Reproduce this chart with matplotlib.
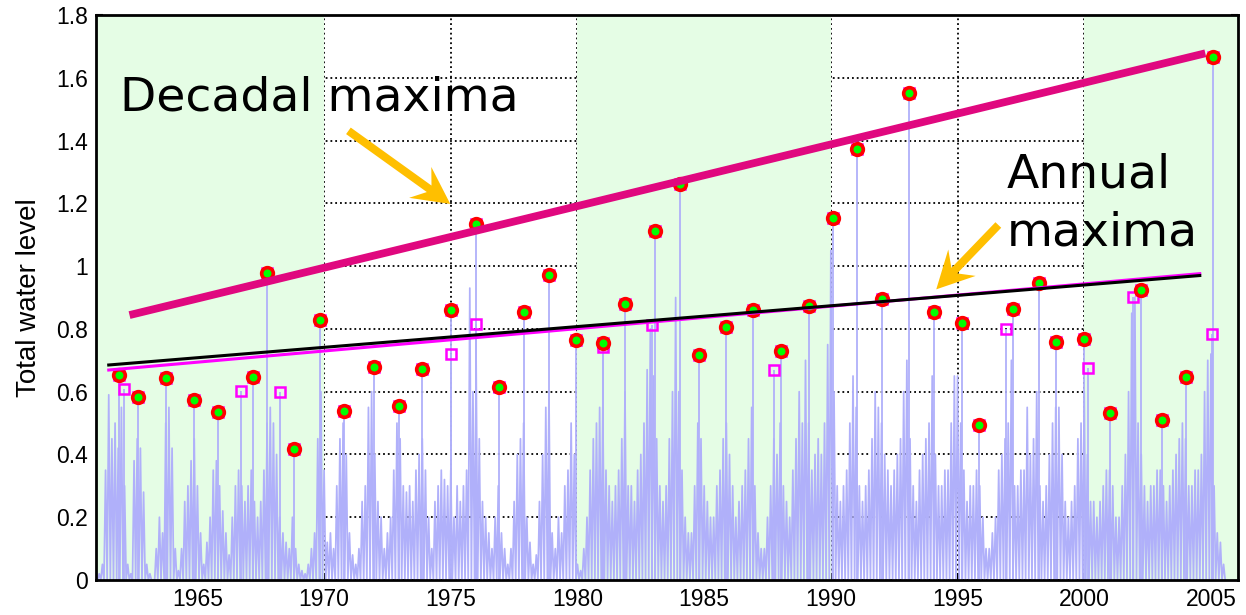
import numpy as np
import matplotlib.pyplot as plt
from matplotlib.patches import Polygon
from matplotlib.transforms import IdentityTransform

# yearly maxima of the total water level (circles)
annual_year = [1961.91, 1962.66, 1963.76, 1964.88, 1965.82, 1967.20, 1967.75, 1968.80,
               1969.84, 1970.78, 1971.95, 1972.95, 1973.86, 1975.02, 1976.00, 1976.91,
               1977.87, 1978.86, 1979.95, 1980.99, 1981.88, 1983.07, 1984.03, 1984.81,
               1985.87, 1986.94, 1988.03, 1989.14, 1990.08, 1991.04, 1992.02, 1993.08,
               1994.09, 1995.18, 1995.83, 1997.20, 1998.20, 1998.87, 1999.98, 2001.00,
               2002.24, 2003.07, 2004.03, 2005.07]
annual_max = [0.653, 0.583, 0.644, 0.573, 0.535, 0.647, 0.978, 0.417,
              0.828, 0.537, 0.679, 0.553, 0.672, 0.860, 1.134, 0.615,
              0.855, 0.973, 0.764, 0.756, 0.880, 1.111, 1.262, 0.718,
              0.807, 0.861, 0.728, 0.874, 1.152, 1.372, 0.894, 1.552,
              0.855, 0.818, 0.494, 0.862, 0.945, 0.757, 0.769, 0.533,
              0.924, 0.509, 0.646, 1.665]

# second largest independent event of some years (open squares)
second_year = [1962.10, 1966.71, 1968.25, 1975.02, 1976.00, 1980.99,
               1982.94, 1987.75, 1996.90, 2000.16, 2001.93, 2005.03]
second_max = [0.607, 0.601, 0.598, 0.719, 0.817, 0.742,
              0.812, 0.669, 0.799, 0.675, 0.903, 0.784]

# water level record, 8 peak samples per year starting 1961.0
level = [
    0.00, 0.02, 0.05, 0.35, 0.59, 0.45, 0.50, 0.42,  # 1961
    0.55, 0.30, 0.05, 0.02, 0.38, 0.45, 0.42, 0.28,  # 1962
    0.05, 0.02, 0.00, 0.10, 0.20, 0.15, 0.50, 0.55,  # 1963
    0.42, 0.10, 0.03, 0.10, 0.25, 0.30, 0.38, 0.45,  # 1964
    0.30, 0.15, 0.05, 0.12, 0.20, 0.35, 0.38, 0.30,  # 1965
    0.22, 0.15, 0.08, 0.20, 0.30, 0.35, 0.30, 0.25,  # 1966
    0.30, 0.35, 0.25, 0.20, 0.25, 0.35, 0.50, 0.55,  # 1967
    0.50, 0.40, 0.20, 0.15, 0.12, 0.10, 0.20, 0.10,  # 1968
    0.05, 0.03, 0.02, 0.05, 0.10, 0.15, 0.45, 0.60,  # 1969
    0.35, 0.12, 0.15, 0.10, 0.30, 0.45, 0.50, 0.40,  # 1970
    0.15, 0.08, 0.05, 0.10, 0.25, 0.30, 0.55, 0.60,  # 1971
    0.40, 0.25, 0.20, 0.10, 0.15, 0.20, 0.35, 0.50,  # 1972
    0.45, 0.30, 0.28, 0.30, 0.25, 0.35, 0.40, 0.45,  # 1973
    0.35, 0.20, 0.10, 0.25, 0.30, 0.35, 0.32, 0.30,  # 1974
    0.35, 0.20, 0.30, 0.25, 0.30, 0.35, 0.93, 0.60,  # 1975
    0.70, 0.45, 0.25, 0.20, 0.15, 0.10, 0.20, 0.30,  # 1976
    0.15, 0.10, 0.05, 0.10, 0.25, 0.40, 0.45, 0.50,  # 1977
    0.20, 0.12, 0.05, 0.08, 0.25, 0.40, 0.55, 0.60,  # 1978
    0.15, 0.10, 0.20, 0.15, 0.30, 0.35, 0.50, 0.40,  # 1979
    0.05, 0.03, 0.10, 0.20, 0.35, 0.45, 0.50, 0.55,  # 1980
    0.55, 0.35, 0.30, 0.25, 0.30, 0.35, 0.45, 0.60,  # 1981
    0.30, 0.30, 0.25, 0.35, 0.40, 0.50, 0.67, 0.80,  # 1982
    0.65, 0.45, 0.30, 0.25, 0.30, 0.45, 0.60, 0.90,  # 1983
    0.60, 0.35, 0.20, 0.15, 0.15, 0.30, 0.50, 0.45,  # 1984
    0.30, 0.25, 0.20, 0.20, 0.30, 0.35, 0.45, 0.50,  # 1985
    0.40, 0.30, 0.20, 0.25, 0.30, 0.35, 0.45, 0.55,  # 1986
    0.30, 0.15, 0.10, 0.10, 0.20, 0.30, 0.45, 0.40,  # 1987
    0.50, 0.30, 0.25, 0.20, 0.35, 0.45, 0.60, 0.50,  # 1988
    0.70, 0.50, 0.35, 0.40, 0.45, 0.40, 0.50, 0.75,  # 1989
    1.05, 0.60, 0.30, 0.25, 0.30, 0.35, 0.50, 0.65,  # 1990
    0.55, 0.30, 0.25, 0.30, 0.35, 0.45, 0.60, 0.55,  # 1991
    0.50, 0.40, 0.35, 0.30, 0.35, 0.40, 0.45, 0.60,  # 1992
    0.70, 0.45, 0.30, 0.25, 0.35, 0.40, 0.45, 0.50,  # 1993
    0.65, 0.40, 0.30, 0.30, 0.35, 0.35, 0.50, 0.65,  # 1994
    0.65, 0.50, 0.35, 0.25, 0.30, 0.30, 0.35, 0.30,  # 1995
    0.20, 0.10, 0.10, 0.15, 0.20, 0.35, 0.40, 0.45,  # 1996
    0.50, 0.70, 0.30, 0.30, 0.35, 0.35, 0.55, 0.40,  # 1997
    0.45, 0.60, 0.30, 0.25, 0.30, 0.40, 0.50, 0.55,  # 1998
    0.55, 0.40, 0.25, 0.20, 0.25, 0.30, 0.45, 0.50,  # 1999
    0.60, 0.40, 0.25, 0.25, 0.20, 0.25, 0.30, 0.35,  # 2000
    0.35, 0.30, 0.20, 0.20, 0.30, 0.40, 0.60, 0.85,  # 2001
    0.90, 0.50, 0.40, 0.30, 0.25, 0.30, 0.30, 0.35,  # 2002
    0.35, 0.30, 0.25, 0.30, 0.35, 0.40, 0.45, 0.50,  # 2003
    0.45, 0.30, 0.30, 0.35, 0.35, 0.40, 0.60, 0.70,  # 2004
    0.72, 0.30, 0.15, 0.12, 0.05,                    # 2005
]
level_t = 1961.0 + np.arange(len(level)) / 8

# fitted trend lines (start and end points)
decadal_fit_x = [1962.32, 2004.78]
decadal_fit_y = [0.844, 1.678]
annual_fit_x = [1961.50, 2004.56]
annual_fit_y = [0.685, 0.970]
annual_gev_y = [0.669, 0.976]

# arrows pointing at the two trends: (tail, head) in data units
arrows = [((1970.96, 1.431), (1974.98, 1.198)),
          ((1996.61, 1.131), (1994.16, 0.926))]

shaded_decades = [(1961.0, 1970.0), (1980.0, 1990.0), (2000.0, 2006.2)]
xticks = [1965, 1970, 1975, 1980, 1985, 1990, 1995, 2000, 2005]
yticks = [0, 0.2, 0.4, 0.6, 0.8, 1.0, 1.2, 1.4, 1.6, 1.8]
ytick_labels = ['0', '0.2', '0.4', '0.6', '0.8', '1', '1.2', '1.4', '1.6', '1.8']

blue = '#b0b0fa'
orange = '#ffbf00'

plt.rcParams['font.family'] = 'Liberation Sans'

fig = plt.figure(figsize=(12.46, 6.15), dpi=100)
ax = fig.add_axes([0.0771, 0.0569, 0.9165, 0.9187])

ax.set_axisbelow(True)
ax.grid(True, ls=':', color='k', lw=1.3)
for x0, x1 in shaded_decades:
    ax.axvspan(x0, x1, color='#e5fde5', lw=0, zorder=1)

# raw record drawn as a spiky trace: every peak sample drops back to zero
saw_t = np.column_stack([level_t, level_t + 1 / 16]).ravel()
saw_v = np.column_stack([level, np.zeros(len(level))]).ravel()
ax.plot(saw_t, saw_v, color=blue, lw=1.25, zorder=2)
ax.vlines(annual_year, 0, annual_max, color=blue, lw=1.3, zorder=2)
ax.vlines(second_year, 0, second_max, color=blue, lw=1.3, zorder=2)

# extremes
ax.plot(annual_year + second_year, annual_max + second_max, 's', ms=7.8, mfc='none',
        mec='#ff00ff', mew=1.8, zorder=4)
ax.plot(annual_year, annual_max, 'o', ms=8.4, mfc='#00ff00', mec='#ff0000', mew=2.6, zorder=5)

# trends
ax.plot(decadal_fit_x, decadal_fit_y, color='#e0087f', lw=5.6, solid_capstyle='butt', zorder=6)
ax.plot(annual_fit_x, annual_gev_y, color='#ff00ff', lw=2.2, zorder=6)
ax.plot(annual_fit_x, annual_fit_y, color='black', lw=2.2, zorder=6)

ax.text(1961.95, 1.497, 'Decadal maxima', fontsize=34, family='DejaVu Sans',
        va='baseline', ha='left', zorder=7)
ax.text(1996.95, 1.249, 'Annual', fontsize=34, family='DejaVu Sans',
        va='baseline', ha='left', zorder=7)
ax.text(1996.95, 1.067, 'maxima', fontsize=34, family='DejaVu Sans',
        va='baseline', ha='left', zorder=7)

ax.set_xlim(1961.0, 2006.07)
ax.set_ylim(0, 1.8)
ax.set_xticks(xticks)
ax.set_yticks(yticks)
ax.set_yticklabels(ytick_labels)
ax.tick_params(direction='in', length=5, width=1.5, right=True, top=False,
               labelsize=16.5, pad=6)
for s in ax.spines.values():
    s.set_linewidth(2)
    s.set_zorder(8)
ax.set_ylabel('Total water level', fontsize=20, labelpad=10)


def barbed_arrow(tail, head, shaft=8.0, head_w=38.0, head_len=37.0, notch=11.0):
    # arrow outline in pixels, with swept-back barbs at the head
    p0 = ax.transData.transform(tail)
    p1 = ax.transData.transform(head)
    u = (p1 - p0) / np.hypot(*(p1 - p0))
    n = np.array([-u[1], u[0]])
    base = p1 - u * head_len
    join = base + u * notch
    verts = [p0 + n * shaft / 2, join + n * shaft / 2, base + n * head_w / 2, p1,
             base - n * head_w / 2, join - n * shaft / 2, p0 - n * shaft / 2]
    ax.add_patch(Polygon(verts, closed=True, transform=IdentityTransform(),
                         facecolor=orange, edgecolor='none', zorder=7))


for tail, head in arrows:
    barbed_arrow(tail, head)

fig.savefig('out.png', dpi=100)
